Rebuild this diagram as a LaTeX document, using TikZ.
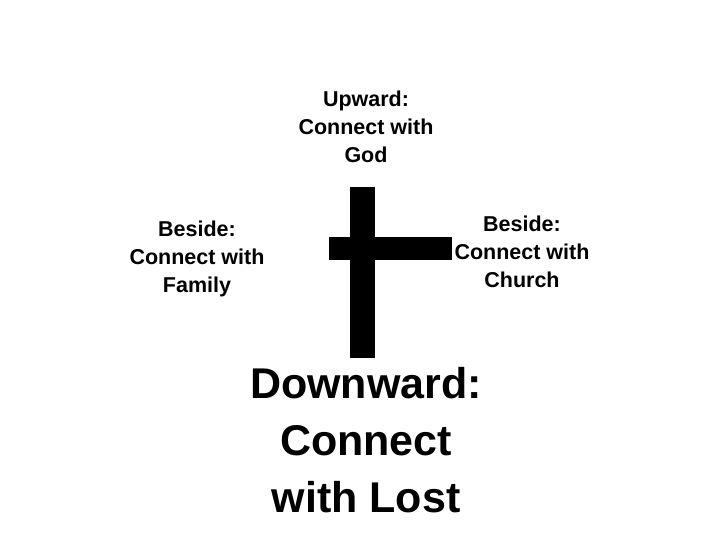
\documentclass[tikz,border=0pt]{standalone}
\usepackage{fontspec}
\setmainfont{Liberation Sans}
\begin{document}
\begin{tikzpicture}[x=1pt,y=-1pt,
  lbl/.style={align=center,font=\bfseries\fontsize{21.5}{28}\selectfont,inner sep=0pt},
  big/.style={align=center,font=\bfseries\fontsize{43}{57}\selectfont,inner sep=0pt}]
\useasboundingbox (0,0) rectangle (720,540);
\fill[black] (350,187) rectangle (375,358);
\fill[black] (329,237) rectangle (452,260);
\node[lbl] (up) at (366,127) {Upward:\\Connect with\\God};
\node[lbl] (fam) at (197,259) {Beside:\\Connect with\\Family};
\node[lbl] (ch) at (522,252) {Beside:\\Connect with\\Church};
\node[big] (down) at (366,440) {Downward:\\Connect\\with Lost};
\end{tikzpicture}
\end{document}
